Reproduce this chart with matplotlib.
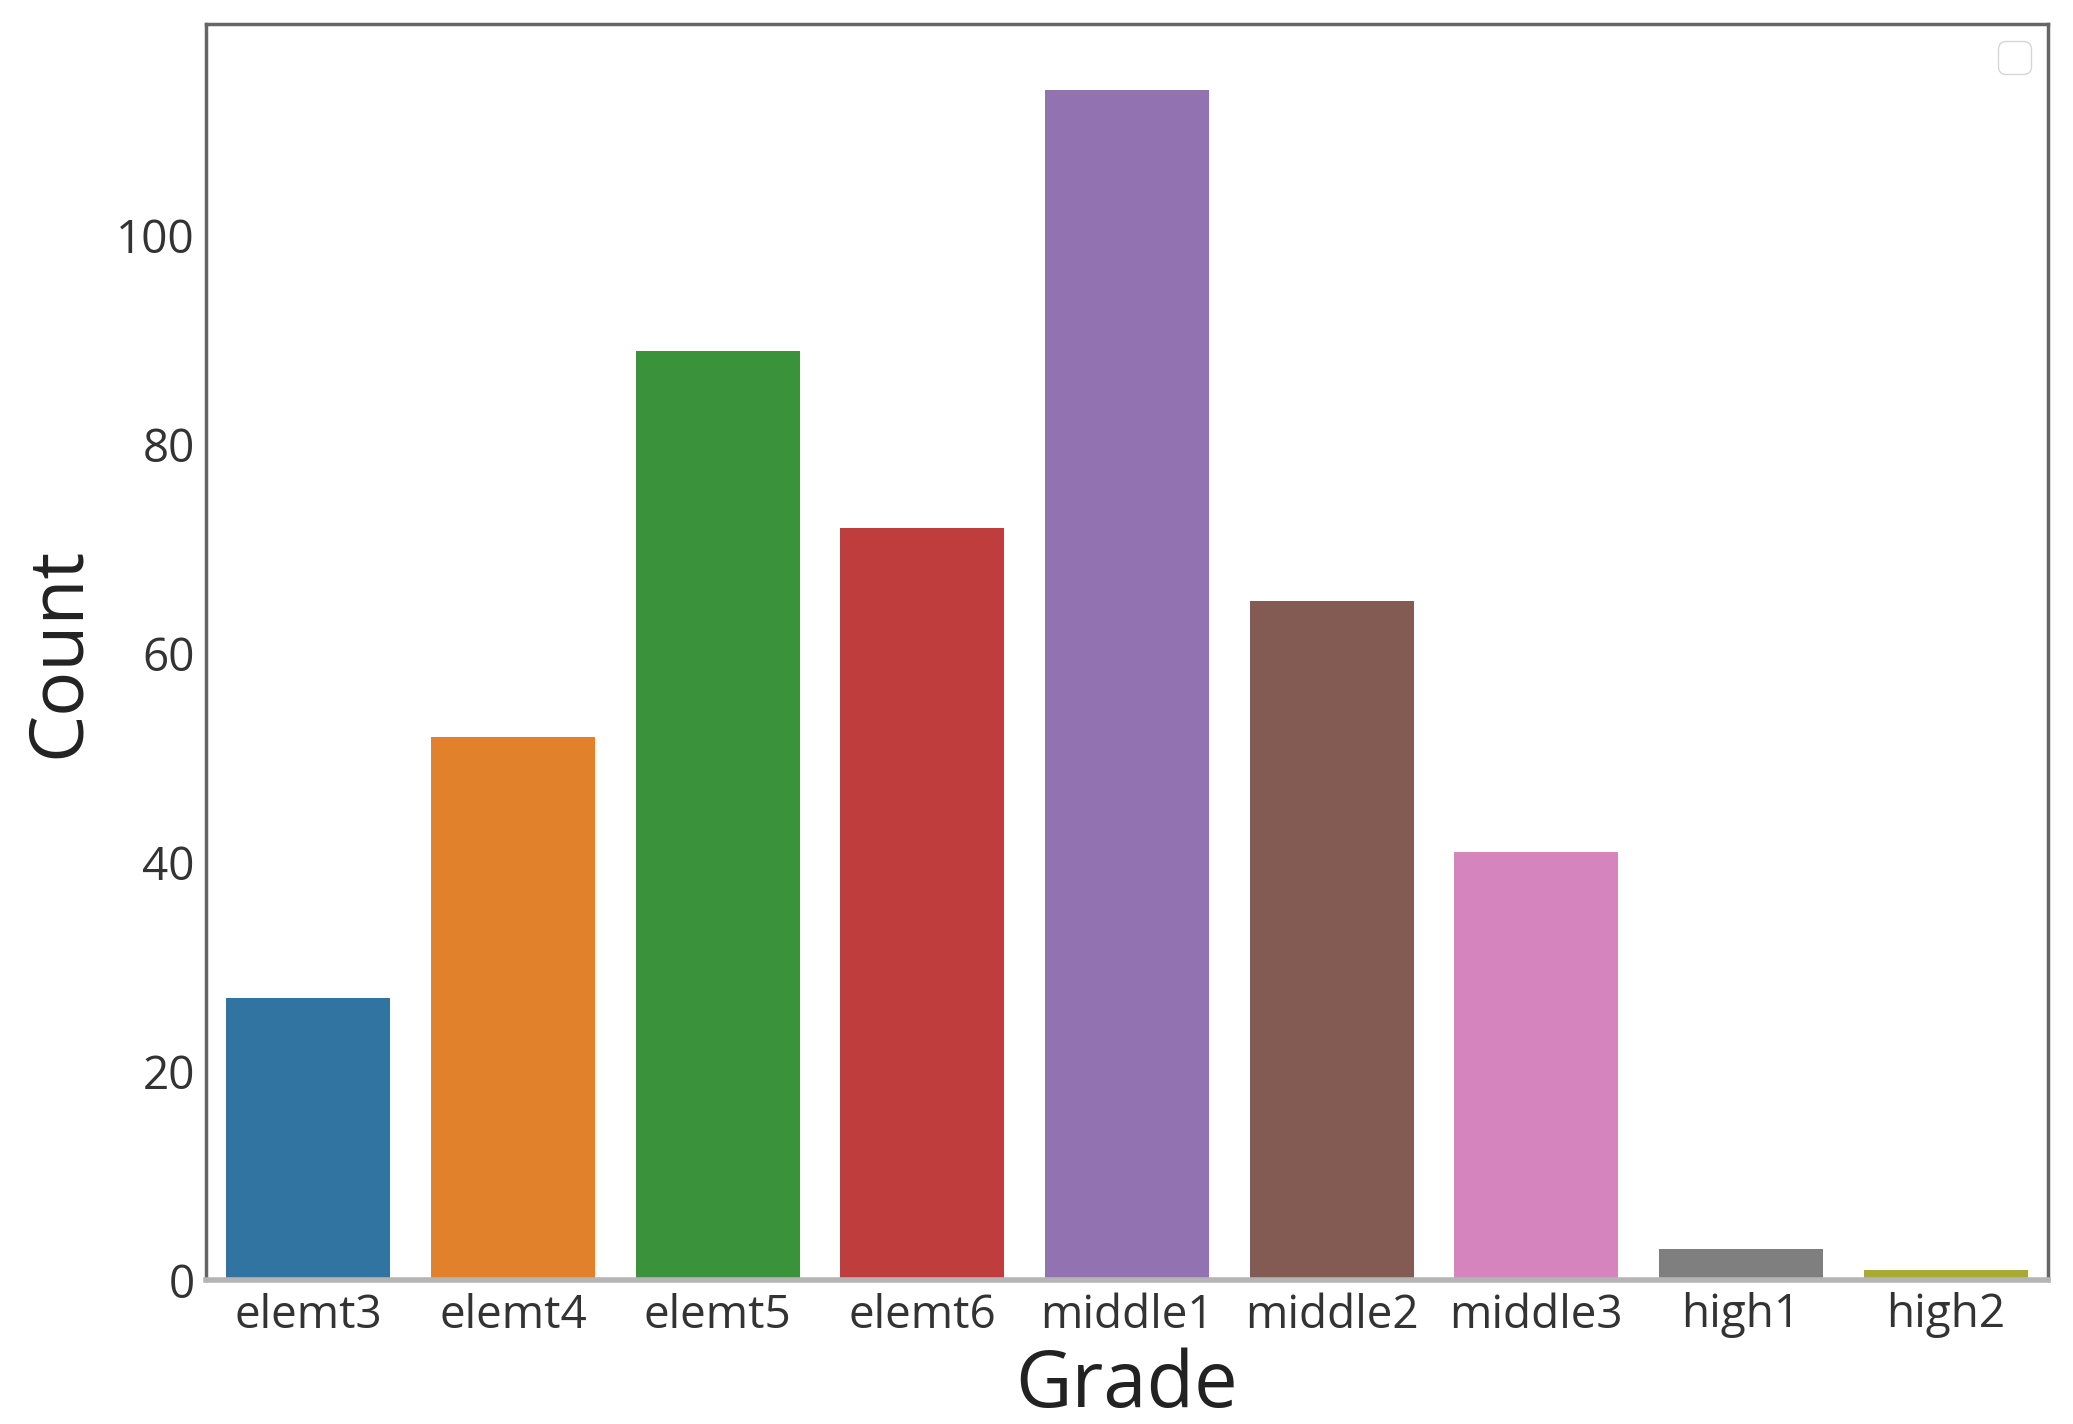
import matplotlib
matplotlib.use("Agg")
import matplotlib.pyplot as plt
import seaborn as sns

grades = ["elemt3", "elemt4", "elemt5", "elemt6", "middle1", "middle2", "middle3", "high1", "high2"]
counts = [27, 52, 89, 72, 114, 65, 41, 3, 1]

sns.set_style("white")
plt.rcParams['font.family'] = ['Open Sans', 'DejaVu Sans']

fig = plt.figure(figsize=(20.73, 14.24), dpi=100)
ax = fig.add_axes([206/2073, 1 - 1280/1424, (2048-206)/2073, (1280-24)/1424])
colors = [sns.desaturate(c, 0.75) for c in sns.color_palette("tab10", len(grades))]
ax.bar(range(len(grades)), counts, width=0.8, color=colors, edgecolor='none')
ax.set_xlim(-0.5, len(grades) - 0.5)
ax.set_ylim(0, 120.3)
ax.set_xticks(range(len(grades)))
ax.set_xticklabels(grades)
ax.set_yticks([0, 20, 40, 60, 80, 100])
ax.tick_params(axis='both', labelsize=33, colors='#333333', length=0)
ax.tick_params(axis='x', pad=9)
ax.tick_params(axis='y', pad=8)
ax.set_xlabel("Grade", fontsize=56, color='#222222', labelpad=6)
ax.set_ylabel("Count", fontsize=54, color='#222222', labelpad=14)
for s in ['top', 'left', 'right']:
    ax.spines[s].set_color('#666666')
    ax.spines[s].set_linewidth(2.5)
ax.spines['bottom'].set_color('#b5b5b5')
ax.spines['bottom'].set_linewidth(4)
leg = ax.legend(handles=[], loc='upper right', frameon=True, fontsize=30, borderaxespad=0.4)
fig.savefig("out.png", dpi=100)
